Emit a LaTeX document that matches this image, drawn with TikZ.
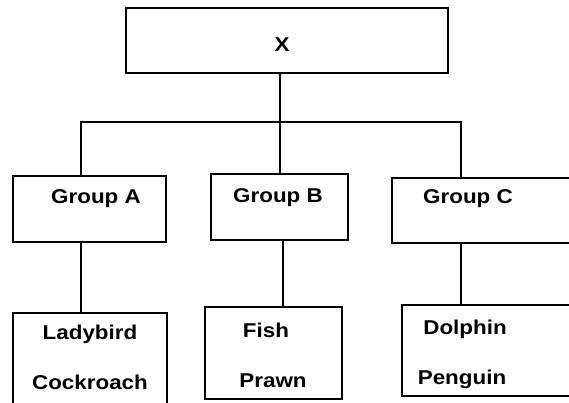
\documentclass[tikz,border=0pt]{standalone}
\usepackage{fontspec}
\setmainfont[FakeStretch=1.12]{Liberation Sans}
\begin{document}
\begin{tikzpicture}[x=1pt,y=-1pt,
  box/.style={draw, line width=1.6pt, inner sep=0pt, anchor=north west},
  lbl/.style={inner sep=0pt, anchor=base, font=\bfseries\fontsize{20}{20}\selectfont},
  link/.style={line width=1.8pt}]
\useasboundingbox (0,0) rectangle (569,403);
\clip (0,0) rectangle (569,403);
% boxes
\node[box, minimum width=322pt, minimum height=65pt] (X) at (125,7) {};
\node[box, minimum width=153pt, minimum height=66pt] (A) at (12,175) {};
\node[box, minimum width=137pt, minimum height=66pt] (B) at (210,173) {};
\node[box, minimum width=200pt, minimum height=65pt] (C) at (391,177) {};
\node[box, minimum width=154pt, minimum height=110pt] (LA) at (12,312) {};
\node[box, minimum width=137pt, minimum height=92pt] (LB) at (204,306) {};
\node[box, minimum width=200pt, minimum height=91pt] (LC) at (401,304) {};
% labels
\node[lbl] (tX) at (282,52) {X};
\node[lbl] (tA) at (96,204) {Group A};
\node[lbl] (tB) at (278,203) {Group B};
\node[lbl] (tC) at (468,204) {Group C};
\node[lbl] (tA1) at (90,339) {Ladybird};
\node[lbl] (tA2) at (90,389) {Cockroach};
\node[lbl] (tB1) at (266,337) {Fish};
\node[lbl] (tB2) at (273,387) {Prawn};
\node[lbl] (tC1) at (465,334) {Dolphin};
\node[lbl] (tC2) at (462,384) {Penguin};
% connectors
\coordinate (j) at (280,122);
\coordinate (ja) at (81,122);
\coordinate (jc) at (461,122);
\coordinate (kb) at (283,270);
\draw[link] (j |- X.south) -- (j);
\draw[link] (ja |- A.north) -- (ja) -- (jc) -- (jc |- C.north);
\draw[link] (j) -- (j |- B.north);
\draw[link] (ja |- A.south) -- (ja |- LA.north);
\draw[link] (kb |- B.south) -- (kb |- LB.north);
\draw[link] (jc |- C.south) -- (jc |- LC.north);
\end{tikzpicture}
\end{document}
